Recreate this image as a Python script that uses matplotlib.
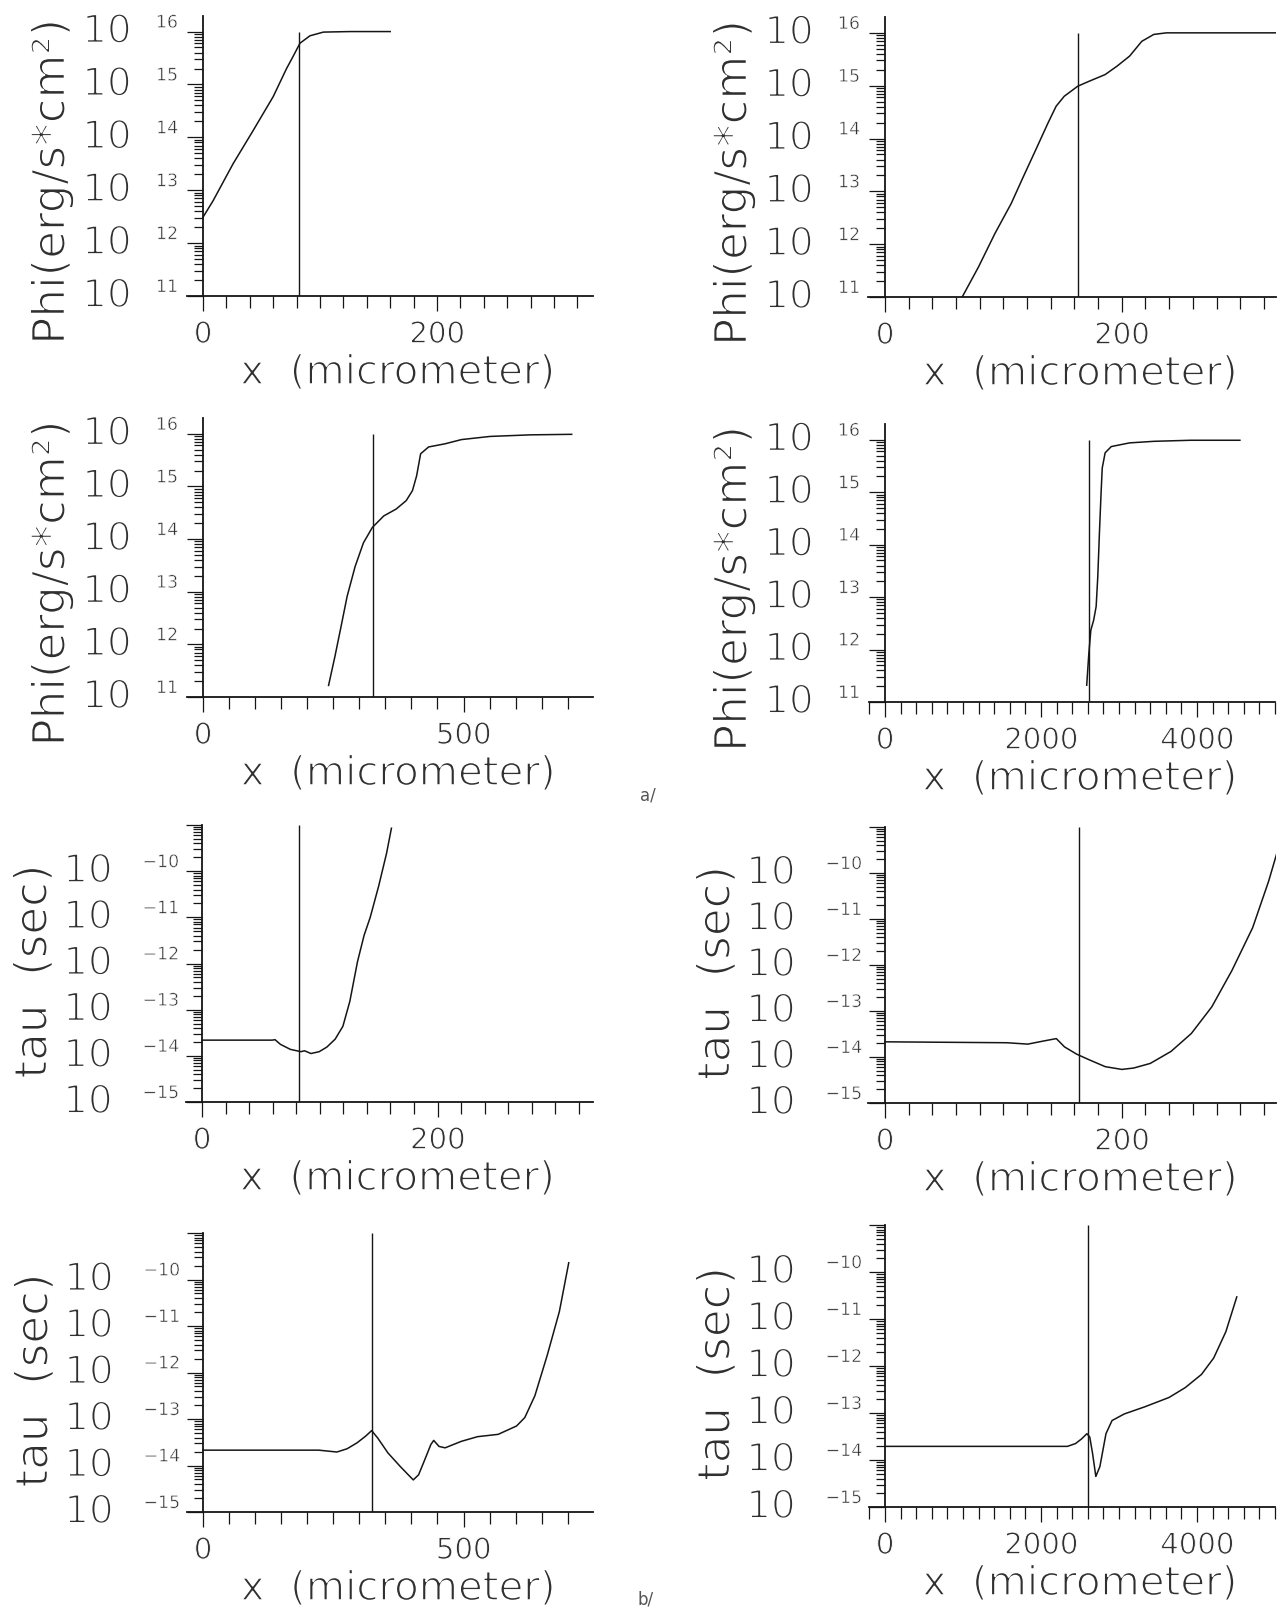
import numpy as np
import matplotlib
matplotlib.use("Agg")
import matplotlib.pyplot as plt
import matplotlib.patheffects as pe
from matplotlib.ticker import LogLocator, MultipleLocator, NullFormatter
from matplotlib.transforms import offset_copy

plt.rcParams['font.family'] = ['DejaVu Sans']

# x in micrometer, curves given as log10 of the value
# a/ : photon flux Phi
phi1_x = [0, 8.6, 25.7, 42.9, 60, 71.4, 77, 82.9, 91.4, 102.9, 125.7, 160]
phi1_log = [12.49, 12.80, 13.50, 14.13, 14.77, 15.30, 15.53, 15.78, 15.92, 15.99, 16.0, 16.0]
phi1_front = 82

phi2_x = [65.2, 79, 92.8, 106.6, 116.9, 127.2, 137.6, 144.5, 151.4, 162.8, 172, 185.9, 196,
          206.6, 216.9, 227, 237.6, 330.7]
phi2_log = [11.0, 11.57, 12.20, 12.77, 13.28, 13.78, 14.29, 14.61, 14.80, 14.99, 15.08, 15.21,
            15.37, 15.56, 15.84, 15.97, 16.0, 16.0]
phi2_front = 163

phi3_x = [241, 253, 265, 276.6, 292, 308, 325, 347, 370.7, 390, 402, 410, 417.7, 433, 464.7,
          496, 551, 629, 707.7]
phi3_log = [11.22, 11.76, 12.34, 12.91, 13.48, 13.93, 14.22, 14.44, 14.57, 14.73, 14.92, 15.20,
            15.62, 15.75, 15.81, 15.89, 15.95, 15.98, 15.99]
phi3_front = 326

phi4_x = [2586, 2613, 2639, 2675, 2707, 2728, 2749, 2770, 2785, 2822, 2901, 3136, 3450, 3921, 4550]
phi4_log = [11.32, 11.92, 12.37, 12.56, 12.82, 13.39, 14.22, 14.98, 15.46, 15.75, 15.87, 15.94,
            15.97, 15.99, 15.99]
phi4_front = 2615

# b/ : lifetime tau
tau1_x = [0, 59.6, 62, 66.5, 75, 84, 87, 92.5, 99.5, 106, 113, 119.6, 125.5, 132, 137.6, 142.8,
          150, 156.7, 160.8]
tau1_log = [-13.66, -13.66, -13.65, -13.75, -13.86, -13.91, -13.89, -13.95, -13.91, -13.81, -13.64,
            -13.36, -12.82, -11.96, -11.39, -11.0, -10.32, -9.61, -9.07]
tau1_front = 82.5

tau2_x = [0, 103, 120.6, 134.4, 144.7, 151.6, 162, 172.4, 186, 200, 210, 224, 241.5, 258.7, 276,
          293, 310.5, 324, 333]
tau2_log = [-13.67, -13.69, -13.72, -13.65, -13.60, -13.78, -13.94, -14.06, -14.21, -14.27, -14.24,
            -14.14, -13.88, -13.49, -12.91, -12.12, -11.19, -10.18, -9.39]
tau2_front = 163.7

tau3_x = [0, 222, 257, 276.6, 296, 312, 323.7, 335.4, 355, 378.5, 394, 403.6, 413.8, 425.5, 437.3,
          442.8, 453, 464.7, 496, 527, 566.6, 601.9, 617.6, 637, 660.7, 684, 702]
tau3_log = [-13.67, -13.67, -13.71, -13.64, -13.51, -13.37, -13.25, -13.41, -13.73, -14.02, -14.20,
            -14.31, -14.20, -13.88, -13.55, -13.46, -13.59, -13.62, -13.48, -13.38, -13.33, -13.15,
            -12.97, -12.50, -11.63, -10.69, -9.64]
tau3_front = 324

tau4_x = [0, 2339, 2443, 2521, 2589, 2625, 2661, 2703, 2755, 2833, 2911, 3068, 3328, 3641, 3849,
          4057, 4214, 4370, 4510]
tau4_log = [-13.71, -13.71, -13.65, -13.55, -13.44, -13.51, -13.86, -14.35, -14.14, -13.44, -13.16,
            -13.02, -12.87, -12.67, -12.46, -12.18, -11.83, -11.27, -10.53]
tau4_front = 2600

phi_decades = [11, 12, 13, 14, 15, 16]
tau_decades = [-15, -14, -13, -12, -11, -10]

W, H = 1280, 1611
fig = plt.figure(figsize=(W / 100, H / 100), dpi=100)
fig.patch.set_facecolor('white')
INK = '#151515'
TXT = '#303030'
# white outline eats into the glyphs -> thin, plotter-like lettering
thin_big = [pe.Stroke(linewidth=1.4, foreground='white')]
thin_lab = [pe.Stroke(linewidth=1.1, foreground='white')]
thin_tick = [pe.Stroke(linewidth=0.7, foreground='white')]
thin_small = [pe.Stroke(linewidth=0.4, foreground='white')]

# layout in pixels: x of data 0, px per micrometer, axes top and bottom
panels = [
    (phi1_x, phi1_log, phi1_front, 'phi', 203, 1.17, (-14, 333), 15.7, 296, 200, 20),
    (phi2_x, phi2_log, phi2_front, 'phi', 885, 1.184, (-14, 330), 17, 297, 200, 20),
    (phi3_x, phi3_log, phi3_front, 'phi', 203, 0.521, (-30, 748), 418, 697, 500, 50),
    (phi4_x, phi4_log, phi4_front, 'phi', 885, 0.078, (-210, 5000), 424, 702, 2000, 200),
    (tau1_x, tau1_log, tau1_front, 'tau', 202, 1.178, (-14, 332), 825, 1102, 200, 20),
    (tau2_x, tau2_log, tau2_front, 'tau', 885, 1.184, (-14, 330), 827, 1103, 200, 20),
    (tau3_x, tau3_log, tau3_front, 'tau', 203, 0.521, (-30, 748), 1233, 1512, 500, 50),
    (tau4_x, tau4_log, tau4_front, 'tau', 885, 0.078, (-210, 5000), 1225, 1507, 2000, 200),
]

for xs, logs, front, kind, x0, scale, xlim, top, bot, major, minor in panels:
    left = x0 + xlim[0] * scale
    right = x0 + xlim[1] * scale
    ax = fig.add_axes([left / W, 1 - bot / H, (right - left) / W, (bot - top) / H])
    ax.set_facecolor('none')
    ax.set_yscale('log')
    ax.set_xlim(*xlim)
    if kind == 'phi':
        decades = phi_decades
        ax.set_ylim(1e11, 10 ** 16.3)
        ylab = 'Phi(erg/s*cm²)'
        big_dx, exp_dx, lab_dx, lab_dy = 96, 25, 151, 26
    else:
        decades = tau_decades
        ax.set_ylim(1e-15, 1e-9)
        ylab = 'tau  (sec)'
        big_dx, exp_dx, lab_dx, lab_dy = 114, 23, 168, 8
    lo, hi = ax.get_ylim()

    ax.plot(xs, 10 ** np.array(logs), color=INK, lw=1.1)
    ax.vlines(front, 10 ** decades[0], 10 ** decades[-1] if kind == 'phi' else hi,
              color=INK, lw=1.0)

    for s in ('top', 'right'):
        ax.spines[s].set_visible(False)
    ax.spines['left'].set_position(('data', 0))
    for s in ('left', 'bottom'):
        ax.spines[s].set_linewidth(1.3)
        ax.spines[s].set_color(INK)

    ax.yaxis.set_major_locator(LogLocator(base=10, numticks=20))
    ax.yaxis.set_minor_locator(LogLocator(base=10, subs=np.arange(2, 10), numticks=20))
    ax.yaxis.set_major_formatter(NullFormatter())
    ax.yaxis.set_minor_formatter(NullFormatter())
    ax.tick_params(axis='y', which='major', direction='out', length=11.5, width=0.9, color=INK)
    ax.tick_params(axis='y', which='minor', direction='out', length=6.5, width=0.9, color=INK)

    ax.xaxis.set_minor_locator(MultipleLocator(minor))
    ax.set_xticks(np.arange(0, xlim[1] + 1, major))
    ax.tick_params(axis='x', which='major', direction='out', length=10.8, width=0.9,
                   color=INK, labelsize=21, labelcolor=TXT, pad=7)
    ax.tick_params(axis='x', which='minor', direction='out', length=8.4, width=0.9, color=INK)
    ax.set_xticklabels([str(int(t)) for t in ax.get_xticks()])
    for lbl in ax.get_xticklabels():
        lbl.set_path_effects(thin_tick)

    # decade labels: big "10" and small exponent near the axis
    big_tr = offset_copy(ax.transData, fig=fig, x=-big_dx, y=0, units='dots')
    exp_tr = offset_copy(ax.transData, fig=fig, x=-exp_dx, y=9, units='dots')
    for d in decades:
        ax.text(0, 10.0 ** d, '10', transform=big_tr, ha='center', va='center',
                fontsize=28, color=TXT, clip_on=False, path_effects=thin_big)
        ax.text(0, 10.0 ** d, str(d).replace('-', '\u2212'), transform=exp_tr, ha='right',
                va='center', fontsize=12.5, color=TXT, clip_on=False, path_effects=thin_small)

    # axis titles
    ymid = (top + bot) / 2 + lab_dy
    fig.text((x0 - lab_dx) / W, 1 - ymid / H, ylab, rotation=90, ha='center', va='center',
             fontsize=32.5, color=TXT, path_effects=thin_lab)
    fig.text(((left + right) / 2 + 8) / W, 1 - (bot + 77) / H, 'x  (micrometer)',
             ha='center', va='center', fontsize=29, color=TXT, path_effects=thin_lab)

fig.text(648 / W, 1 - 795 / H, 'a/', ha='center', va='center', fontsize=12, color='#555555')
fig.text(646 / W, 1 - 1600 / H, 'b/', ha='center', va='center', fontsize=12, color='#555555')

fig.savefig('out.png', dpi=100, facecolor='white')
